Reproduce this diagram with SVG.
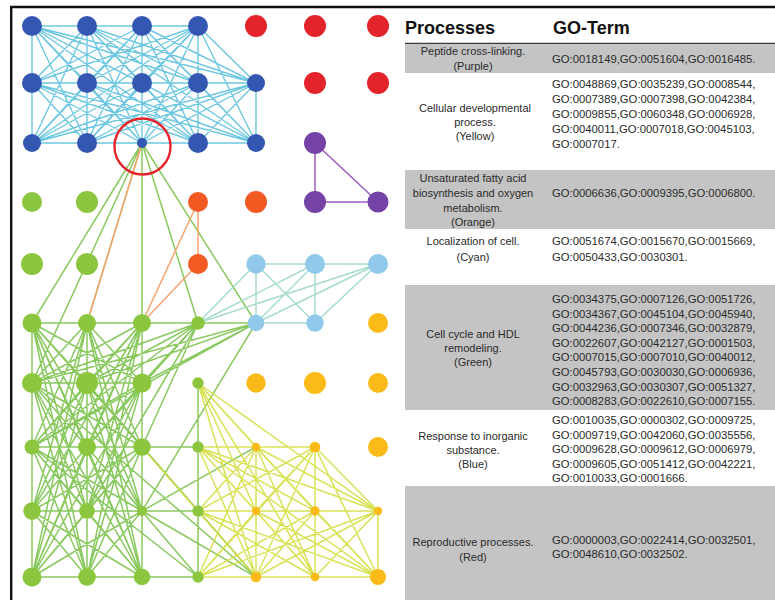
<svg xmlns="http://www.w3.org/2000/svg" width="775" height="600" viewBox="0 0 775 600">
<style>
.b{fill:#3457b1}.r{fill:#e3242b}.p{fill:#7543a5}.g{fill:#8cc63e}.o{fill:#f15a22}.c{fill:#90c9ea}.y{fill:#fbba17}
.e{fill:none;stroke-width:1.5;stroke-linecap:round}
.eb{stroke:#5cc1de;stroke-opacity:0.9;stroke-width:1.4}
.eg{stroke:#74c043;stroke-opacity:0.85}
.ey{stroke:#d5df45;stroke-opacity:0.9}
.ec{stroke:#a6dccb}
.eo{stroke:#f7a46e}
.ep{stroke:#9a5cc0}
.grey{fill:#c4c4c4}
.hd{font-family:"Liberation Sans",Arial,sans-serif;font-weight:bold;font-size:18px;fill:#111}
.pl{font-family:"Liberation Sans",Arial,sans-serif;font-size:11px;fill:#2a2a2a;text-anchor:middle}
.go{font-family:"Liberation Sans",Arial,sans-serif;font-size:11.3px;fill:#2a2a2a}
</style>
<rect x="0" y="0" width="775" height="600" fill="#ffffff"/>
<g id="frame" stroke="#111" stroke-width="2.4" fill="none">
<line x1="10" y1="7" x2="775" y2="7"/>
<line x1="11.2" y1="7" x2="11.2" y2="600"/>
</g>
<g id="connectors">
<path class="e eb" d="M32 26L198 26 M32 83L256 83 M32 143L256 143 M32 26L32 143 M87 26L87 143 M142 26L142 143 M198 26L198 143 M256 83L256 143
M32 26L87 83 M32 26L142 83 M32 26L198 83 M32 26L256 83 M32 26L87 143 M32 26L142 143 M32 26L198 143 M32 26L256 143
M87 26L32 83 M87 26L142 83 M87 26L198 83 M87 26L256 83 M87 26L32 143 M87 26L142 143 M87 26L198 143 M87 26L256 143
M142 26L32 83 M142 26L87 83 M142 26L198 83 M142 26L256 83 M142 26L32 143 M142 26L87 143 M142 26L198 143 M142 26L256 143
M198 26L32 83 M198 26L87 83 M198 26L142 83 M198 26L256 83 M198 26L32 143 M198 26L87 143 M198 26L142 143 M198 26L256 143
M32 83L87 143 M32 83L142 143 M32 83L198 143 M32 83L256 143
M87 83L32 143 M87 83L142 143 M87 83L198 143 M87 83L256 143
M142 83L32 143 M142 83L87 143 M142 83L198 143 M142 83L256 143
M198 83L32 143 M198 83L87 143 M198 83L142 143 M198 83L256 143
M256 83L32 143 M256 83L87 143 M256 83L142 143 M256 83L198 143"/>
<path class="e eg" d="M142 143L32 323 M142 143L87 323 M142 143L32 383 M142 143L142 323 M142 143L198 323 M142 143L256 323
M32 323L256 323 M32 383L142 383 M32 447L198 447 M32 511L198 511 M32 577L198 577
M32 323L32 577 M87 323L87 577 M142 323L142 577 M198 383L198 577
M32 323L87 383 M32 323L142 383 M87 323L32 383 M87 323L142 383 M142 323L32 383 M142 323L87 383
M32 323L87 447 M32 323L142 447 M87 323L32 447 M87 323L142 447 M142 323L32 447 M142 323L87 447
M32 323L87 511 M32 323L142 511 M87 323L32 511 M87 323L142 511 M142 323L32 511 M142 323L87 511
M32 323L87 577 M32 323L142 577 M87 323L32 577 M87 323L142 577 M142 323L32 577 M142 323L87 577
M32 383L87 447 M32 383L142 447 M87 383L32 447 M87 383L142 447 M142 383L32 447 M142 383L87 447
M32 383L87 511 M32 383L142 511 M87 383L32 511 M87 383L142 511 M142 383L32 511 M142 383L87 511
M32 383L87 577 M32 383L142 577 M87 383L32 577 M87 383L142 577 M142 383L32 577 M142 383L87 577
M32 447L87 511 M32 447L142 511 M87 447L32 511 M87 447L142 511 M142 447L32 511 M142 447L87 511
M32 447L87 577 M32 447L142 577 M87 447L32 577 M87 447L142 577 M142 447L32 577 M142 447L87 577
M32 511L87 577 M32 511L142 577 M87 511L32 577 M87 511L142 577 M142 511L32 577 M142 511L87 577
M198 323L32 383 M198 323L87 383 M198 323L142 383 M198 323L32 447 M198 323L87 447 M198 323L142 447 M198 323L87 511
M256 323L32 383 M256 323L87 383 M256 323L142 383 M256 323L32 447 M256 323L142 511
M256 577L32 383 M256 577L87 383 M256 577L32 447 M256 577L142 511 M256 577L142 447
M256 447L142 511 M198 577L32 447 M198 577L87 447"/>
<path class="e ey" d="M198 447L315 447 M198 511L378 511 M198 577L378 577 M256 447L256 577 M315 447L315 577 M378 511L378 577
M256 447L315 511 M256 447L378 511 M315 447L256 511 M315 447L378 511
M256 447L315 577 M256 447L378 577 M315 447L256 577 M315 447L378 577
M256 511L315 577 M256 511L378 577 M315 511L256 577 M315 511L378 577 M378 511L256 577 M378 511L315 577
M198 383L256 447 M198 383L315 511 M198 383L378 511 M198 383L256 511 M198 383L256 577 M198 383L315 577
M198 447L315 511 M198 447L378 511 M198 447L256 511 M198 447L256 577 M198 447L315 577 M198 447L378 577
M198 511L256 447 M198 511L315 447 M198 511L256 577 M198 511L315 577 M198 511L378 577
M198 577L256 447 M198 577L315 447 M198 577L256 511 M198 577L315 511 M198 577L378 511
M142 447L198 511"/>
<path class="e ec" d="M256 264L378 264 M256 264L256 323 M315 264L315 323 M256 323L315 323 M256 264L315 323 M315 264L256 323 M378 264L256 323 M378 264L315 323 M198 323L256 264 M198 323L315 264 M198 323L378 264"/>
<path class="e eo" d="M198 202L198 264 M198 202L142 323 M198 264L142 323 M142 143L87 323"/>
<path class="e ep" d="M315 143L315 202 M315 143L378 202 M315 202L378 202"/>
</g>
<g id="nodes">
<g id="n0_0"><circle class="b" cx="32" cy="26" r="10"/></g>
<g id="n0_1"><circle class="b" cx="87" cy="26" r="10"/></g>
<g id="n0_2"><circle class="b" cx="142" cy="26" r="10"/></g>
<g id="n0_3"><circle class="b" cx="198" cy="26" r="10"/></g>
<g id="n0_4"><circle class="r" cx="256" cy="26" r="11"/></g>
<g id="n0_5"><circle class="r" cx="315" cy="26" r="11"/></g>
<g id="n0_6"><circle class="r" cx="378" cy="26" r="11"/></g>
<g id="n1_0"><circle class="b" cx="32" cy="83" r="10"/></g>
<g id="n1_1"><circle class="b" cx="87" cy="83" r="10"/></g>
<g id="n1_2"><circle class="b" cx="142" cy="83" r="10"/></g>
<g id="n1_3"><circle class="b" cx="198" cy="83" r="10"/></g>
<g id="n1_4"><circle class="b" cx="256" cy="83" r="9"/></g>
<g id="n1_5"><circle class="r" cx="315" cy="83" r="11"/></g>
<g id="n1_6"><circle class="r" cx="378" cy="83" r="11"/></g>
<g id="n2_0"><circle class="b" cx="32" cy="143" r="9"/></g>
<g id="n2_1"><circle class="b" cx="87" cy="143" r="10"/></g>
<g id="n2_2"><circle class="b" cx="142" cy="143" r="5"/></g>
<g id="n2_3"><circle class="b" cx="198" cy="143" r="10"/></g>
<g id="n2_4"><circle class="b" cx="256" cy="143" r="9"/></g>
<g id="n2_5"><circle class="p" cx="315" cy="143" r="11"/></g>
<g id="n3_0"><circle class="g" cx="32" cy="202" r="10"/></g>
<g id="n3_1"><circle class="g" cx="87" cy="202" r="11"/></g>
<g id="n3_3"><circle class="o" cx="198" cy="202" r="10"/></g>
<g id="n3_4"><circle class="o" cx="256" cy="202" r="11"/></g>
<g id="n3_5"><circle class="p" cx="315" cy="202" r="11"/></g>
<g id="n3_6"><circle class="p" cx="378" cy="202" r="10.5"/></g>
<g id="n4_0"><circle class="g" cx="32" cy="264" r="11"/></g>
<g id="n4_1"><circle class="g" cx="87" cy="264" r="11"/></g>
<g id="n4_3"><circle class="o" cx="198" cy="264" r="10"/></g>
<g id="n4_4"><circle class="c" cx="256" cy="264" r="9.7"/></g>
<g id="n4_5"><circle class="c" cx="315" cy="264" r="10"/></g>
<g id="n4_6"><circle class="c" cx="378" cy="264" r="10"/></g>
<g id="n5_0"><circle class="g" cx="32" cy="323" r="9.5"/></g>
<g id="n5_1"><circle class="g" cx="87" cy="323" r="9"/></g>
<g id="n5_2"><circle class="g" cx="142" cy="323" r="9"/></g>
<g id="n5_3"><circle class="g" cx="198" cy="323" r="6.7"/></g>
<g id="n5_4"><circle class="c" cx="256" cy="323" r="8.3"/></g>
<g id="n5_5"><circle class="c" cx="315" cy="323" r="8.7"/></g>
<g id="n5_6"><circle class="y" cx="378" cy="323" r="10"/></g>
<g id="n6_0"><circle class="g" cx="32" cy="383" r="10"/></g>
<g id="n6_1"><circle class="g" cx="87" cy="383" r="11"/></g>
<g id="n6_2"><circle class="g" cx="142" cy="383" r="9.5"/></g>
<g id="n6_3"><circle class="g" cx="198" cy="383" r="5.7"/></g>
<g id="n6_4"><circle class="y" cx="256" cy="383" r="9.7"/></g>
<g id="n6_5"><circle class="y" cx="315" cy="383" r="11"/></g>
<g id="n6_6"><circle class="y" cx="378" cy="383" r="10"/></g>
<g id="n7_0"><circle class="g" cx="32" cy="447" r="7.5"/></g>
<g id="n7_1"><circle class="g" cx="87" cy="447" r="9"/></g>
<g id="n7_2"><circle class="g" cx="142" cy="447" r="8.7"/></g>
<g id="n7_3"><circle class="g" cx="198" cy="447" r="5.7"/></g>
<g id="n7_4"><circle class="y" cx="256" cy="447" r="4.2"/></g>
<g id="n7_5"><circle class="y" cx="315" cy="447" r="5.3"/></g>
<g id="n7_6"><circle class="y" cx="378" cy="447" r="10"/></g>
<g id="n8_0"><circle class="g" cx="32" cy="511" r="8.7"/></g>
<g id="n8_1"><circle class="g" cx="87" cy="511" r="7.8"/></g>
<g id="n8_2"><circle class="g" cx="142" cy="511" r="5"/></g>
<g id="n8_3"><circle class="g" cx="198" cy="511" r="5.7"/></g>
<g id="n8_4"><circle class="y" cx="256" cy="511" r="4"/></g>
<g id="n8_5"><circle class="y" cx="315" cy="511" r="4.7"/></g>
<g id="n8_6"><circle class="y" cx="378" cy="511" r="4.2"/></g>
<g id="n9_0"><circle class="g" cx="32" cy="577" r="9.5"/></g>
<g id="n9_1"><circle class="g" cx="87" cy="577" r="8.8"/></g>
<g id="n9_2"><circle class="g" cx="142" cy="577" r="8.3"/></g>
<g id="n9_3"><circle class="g" cx="198" cy="577" r="5.7"/></g>
<g id="n9_4"><circle class="y" cx="256" cy="577" r="5.2"/></g>
<g id="n9_5"><circle class="y" cx="315" cy="577" r="4.3"/></g>
<g id="n9_6"><circle class="y" cx="378" cy="577" r="8"/></g>
</g>
<g id="highlight"><circle cx="142.5" cy="146.5" r="28" fill="none" stroke="#e3242b" stroke-width="2.4"/></g>
<g id="table">
<text class="hd" x="405" y="33.5">Processes</text>
<text class="hd" x="553" y="33.5">GO-Term</text>
<line x1="405" y1="43.5" x2="775" y2="43.5" stroke="#3a3a3a" stroke-width="1.6"/>
<g id="row-purple">
<rect class="grey" x="405" y="44.5" width="370" height="28.5"/>
<text class="pl" x="473" y="55">Peptide cross-linking.</text>
<text class="pl" x="473" y="70">(Purple)</text>
<text class="go" x="552" y="63">GO:0018149,GO:0051604,GO:0016485.</text>
</g>
<g id="row-yellow">
<text class="pl" x="475" y="112">Cellular developmental</text>
<text class="pl" x="475" y="126">process.</text>
<text class="pl" x="475" y="140">(Yellow)</text>
<text class="go" x="552" y="87.5">GO:0048869,GO:0035239,GO:0008544,</text>
<text class="go" x="552" y="102.5">GO:0007389,GO:0007398,GO:0042384,</text>
<text class="go" x="552" y="117.5">GO:0009855,GO:0060348,GO:0006928,</text>
<text class="go" x="552" y="132.5">GO:0040011,GO:0007018,GO:0045103,</text>
<text class="go" x="552" y="147.5">GO:0007017.</text>
</g>
<g id="row-orange">
<rect class="grey" x="405" y="170" width="370" height="59"/>
<text class="pl" x="473" y="182">Unsaturated fatty acid</text>
<text class="pl" x="473" y="197">biosynthesis and oxygen</text>
<text class="pl" x="473" y="212">metabolism.</text>
<text class="pl" x="473" y="226">(Orange)</text>
<text class="go" x="552" y="197">GO:0006636,GO:0009395,GO:0006800.</text>
</g>
<g id="row-cyan">
<text class="pl" x="473" y="245">Localization of cell.</text>
<text class="pl" x="473" y="261">(Cyan)</text>
<text class="go" x="552" y="245">GO:0051674,GO:0015670,GO:0015669,</text>
<text class="go" x="552" y="261">GO:0050433,GO:0030301.</text>
</g>
<g id="row-green">
<rect class="grey" x="405" y="285" width="370" height="125"/>
<text class="pl" x="473" y="338">Cell cycle and HDL</text>
<text class="pl" x="473" y="352">remodeling.</text>
<text class="pl" x="473" y="366">(Green)</text>
<text class="go" x="552" y="303">GO:0034375,GO:0007126,GO:0051726,</text>
<text class="go" x="552" y="317.6">GO:0034367,GO:0045104,GO:0045940,</text>
<text class="go" x="552" y="332.2">GO:0044236,GO:0007346,GO:0032879,</text>
<text class="go" x="552" y="346.8">GO:0022607,GO:0042127,GO:0001503,</text>
<text class="go" x="552" y="361.4">GO:0007015,GO:0007010,GO:0040012,</text>
<text class="go" x="552" y="376">GO:0045793,GO:0030030,GO:0006936,</text>
<text class="go" x="552" y="390.6">GO:0032963,GO:0030307,GO:0051327,</text>
<text class="go" x="552" y="405.2">GO:0008283,GO:0022610,GO:0007155.</text>
</g>
<g id="row-blue">
<text class="pl" x="473" y="440">Response to inorganic</text>
<text class="pl" x="473" y="454">substance.</text>
<text class="pl" x="473" y="468">(Blue)</text>
<text class="go" x="552" y="424">GO:0010035,GO:0000302,GO:0009725,</text>
<text class="go" x="552" y="438.5">GO:0009719,GO:0042060,GO:0035556,</text>
<text class="go" x="552" y="453">GO:0009628,GO:0009612,GO:0006979,</text>
<text class="go" x="552" y="467.5">GO:0009605,GO:0051412,GO:0042221,</text>
<text class="go" x="552" y="482">GO:0010033,GO:0001666.</text>
</g>
<g id="row-red">
<rect class="grey" x="405" y="486" width="370" height="114"/>
<text class="pl" x="473" y="546">Reproductive processes.</text>
<text class="pl" x="473" y="561">(Red)</text>
<text class="go" x="552" y="544">GO:0000003,GO:0022414,GO:0032501,</text>
<text class="go" x="552" y="558">GO:0048610,GO:0032502.</text>
</g>
</g>
</svg>
